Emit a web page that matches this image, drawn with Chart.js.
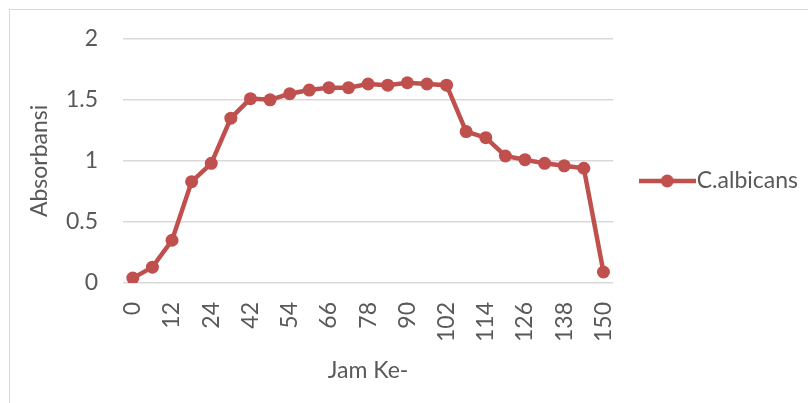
<!DOCTYPE html>
<html>
<head>
<meta charset="utf-8">
<script src="https://cdn.jsdelivr.net/npm/chart.js@4/dist/chart.umd.min.js"></script>
<style>
  html, body { margin: 0; padding: 0; background: #fff; overflow: hidden; }
  #frame { position: absolute; left: 9px; top: 9px; width: 900px; height: 500px;
           border-left: 1px solid #d9d9d9; border-top: 1px solid #d9d9d9; }
  #myChart { position: absolute; left: 0; top: 0; }
</style>
</head>
<body>
<div id="frame"></div>
<canvas id="myChart" width="808" height="403"></canvas>
<script>
// sampling hours (only every other one gets a label on the axis)
const hours = ['0', '6', '12', '18', '24', '36', '42', '48', '54', '60', '66', '72', '78',
               '84', '90', '96', '102', '108', '114', '120', '126', '132', '138', '144', '150'];
// absorbance readings for C.albicans
const absorbance = [0.04, 0.13, 0.35, 0.83, 0.98, 1.35, 1.51, 1.50, 1.55, 1.58, 1.60, 1.60, 1.63,
                    1.62, 1.64, 1.63, 1.62, 1.24, 1.19, 1.04, 1.01, 0.98, 0.96, 0.94, 0.09];
const seriesName = 'C.albicans';
const yMin = 0, yMax = 2, yStep = 0.5;

const red = '#C0504D';
const grey = '#595959';
const font = { family: 'Lato', size: 23 };

// legend marker: a short line with a dot in the middle
function makeMarker() {
    const c = document.createElement('canvas');
    c.width = 57; c.height = 14;
    const g = c.getContext('2d');
    g.strokeStyle = red; g.lineWidth = 4.5;
    g.beginPath(); g.moveTo(0, 7); g.lineTo(57, 7); g.stroke();
    g.fillStyle = red;
    g.beginPath(); g.arc(28.5, 7, 6.5, 0, Math.PI * 2); g.fill();
    return c;
}
const marker = makeMarker();

// moves the legend item to sit a bit above the middle of the canvas
const legendNudge = {
    id: 'legendNudge',
    afterLayout(chart) {
        const l = chart.legend;
        const shift = 181 - (l.top + l.bottom) / 2;
        l.top += shift; l.bottom += shift;
    }
};

function createChart() {
    const ctx = document.getElementById('myChart').getContext('2d');
    new Chart(ctx, {
        type: 'line',
        data: {
            labels: hours,
            datasets: [{
                label: seriesName,
                data: absorbance,
                borderColor: red,
                backgroundColor: red,
                borderWidth: 4.5,
                pointRadius: 6.5,
                pointBorderWidth: 0,
                pointBackgroundColor: red,
                tension: 0
            }]
        },
        options: {
            responsive: false,
            animation: false,
            layout: { padding: { top: 38, right: 0, bottom: 0, left: 0 } },
            plugins: {
                legend: {
                    position: 'right',
                    labels: {
                        usePointStyle: true,
                        pointStyleWidth: 36,
                        padding: 36,
                        color: grey,
                        font: font,
                        generateLabels(chart) {
                            const items = Chart.defaults.plugins.legend.labels.generateLabels(chart);
                            items.forEach(it => { it.pointStyle = marker; });
                            return items;
                        }
                    }
                },
                tooltip: { enabled: false }
            },
            scales: {
                x: {
                    offset: true,
                    grid: { display: false, drawTicks: false },
                    border: { display: false },
                    ticks: {
                        autoSkip: false,
                        minRotation: 90,
                        maxRotation: 90,
                        padding: 19,
                        color: grey,
                        font: font,
                        callback: (v, i) => (i % 2 === 0 ? hours[i] : '')
                    },
                    title: {
                        display: true,
                        text: 'Jam Ke-',
                        color: grey,
                        font: font,
                        padding: { top: 0, bottom: 19 }
                    },
                    afterFit(scale) { scale.height = 120; }
                },
                y: {
                    min: yMin,
                    max: yMax,
                    grid: { color: '#d9d9d9', lineWidth: 1.5, drawTicks: false },
                    border: { display: false },
                    ticks: {
                        stepSize: yStep,
                        padding: 25,
                        color: grey,
                        font: font,
                        callback: v => String(v)
                    },
                    title: {
                        display: true,
                        text: 'Absorbansi',
                        color: grey,
                        font: font,
                        padding: { top: 26, bottom: 0 }
                    },
                    afterFit(scale) { scale.width = 123; }
                }
            }
        },
        plugins: [legendNudge]
    });
}

document.addEventListener('DOMContentLoaded', function () {
    createChart();
});
</script>
</body>
</html>
